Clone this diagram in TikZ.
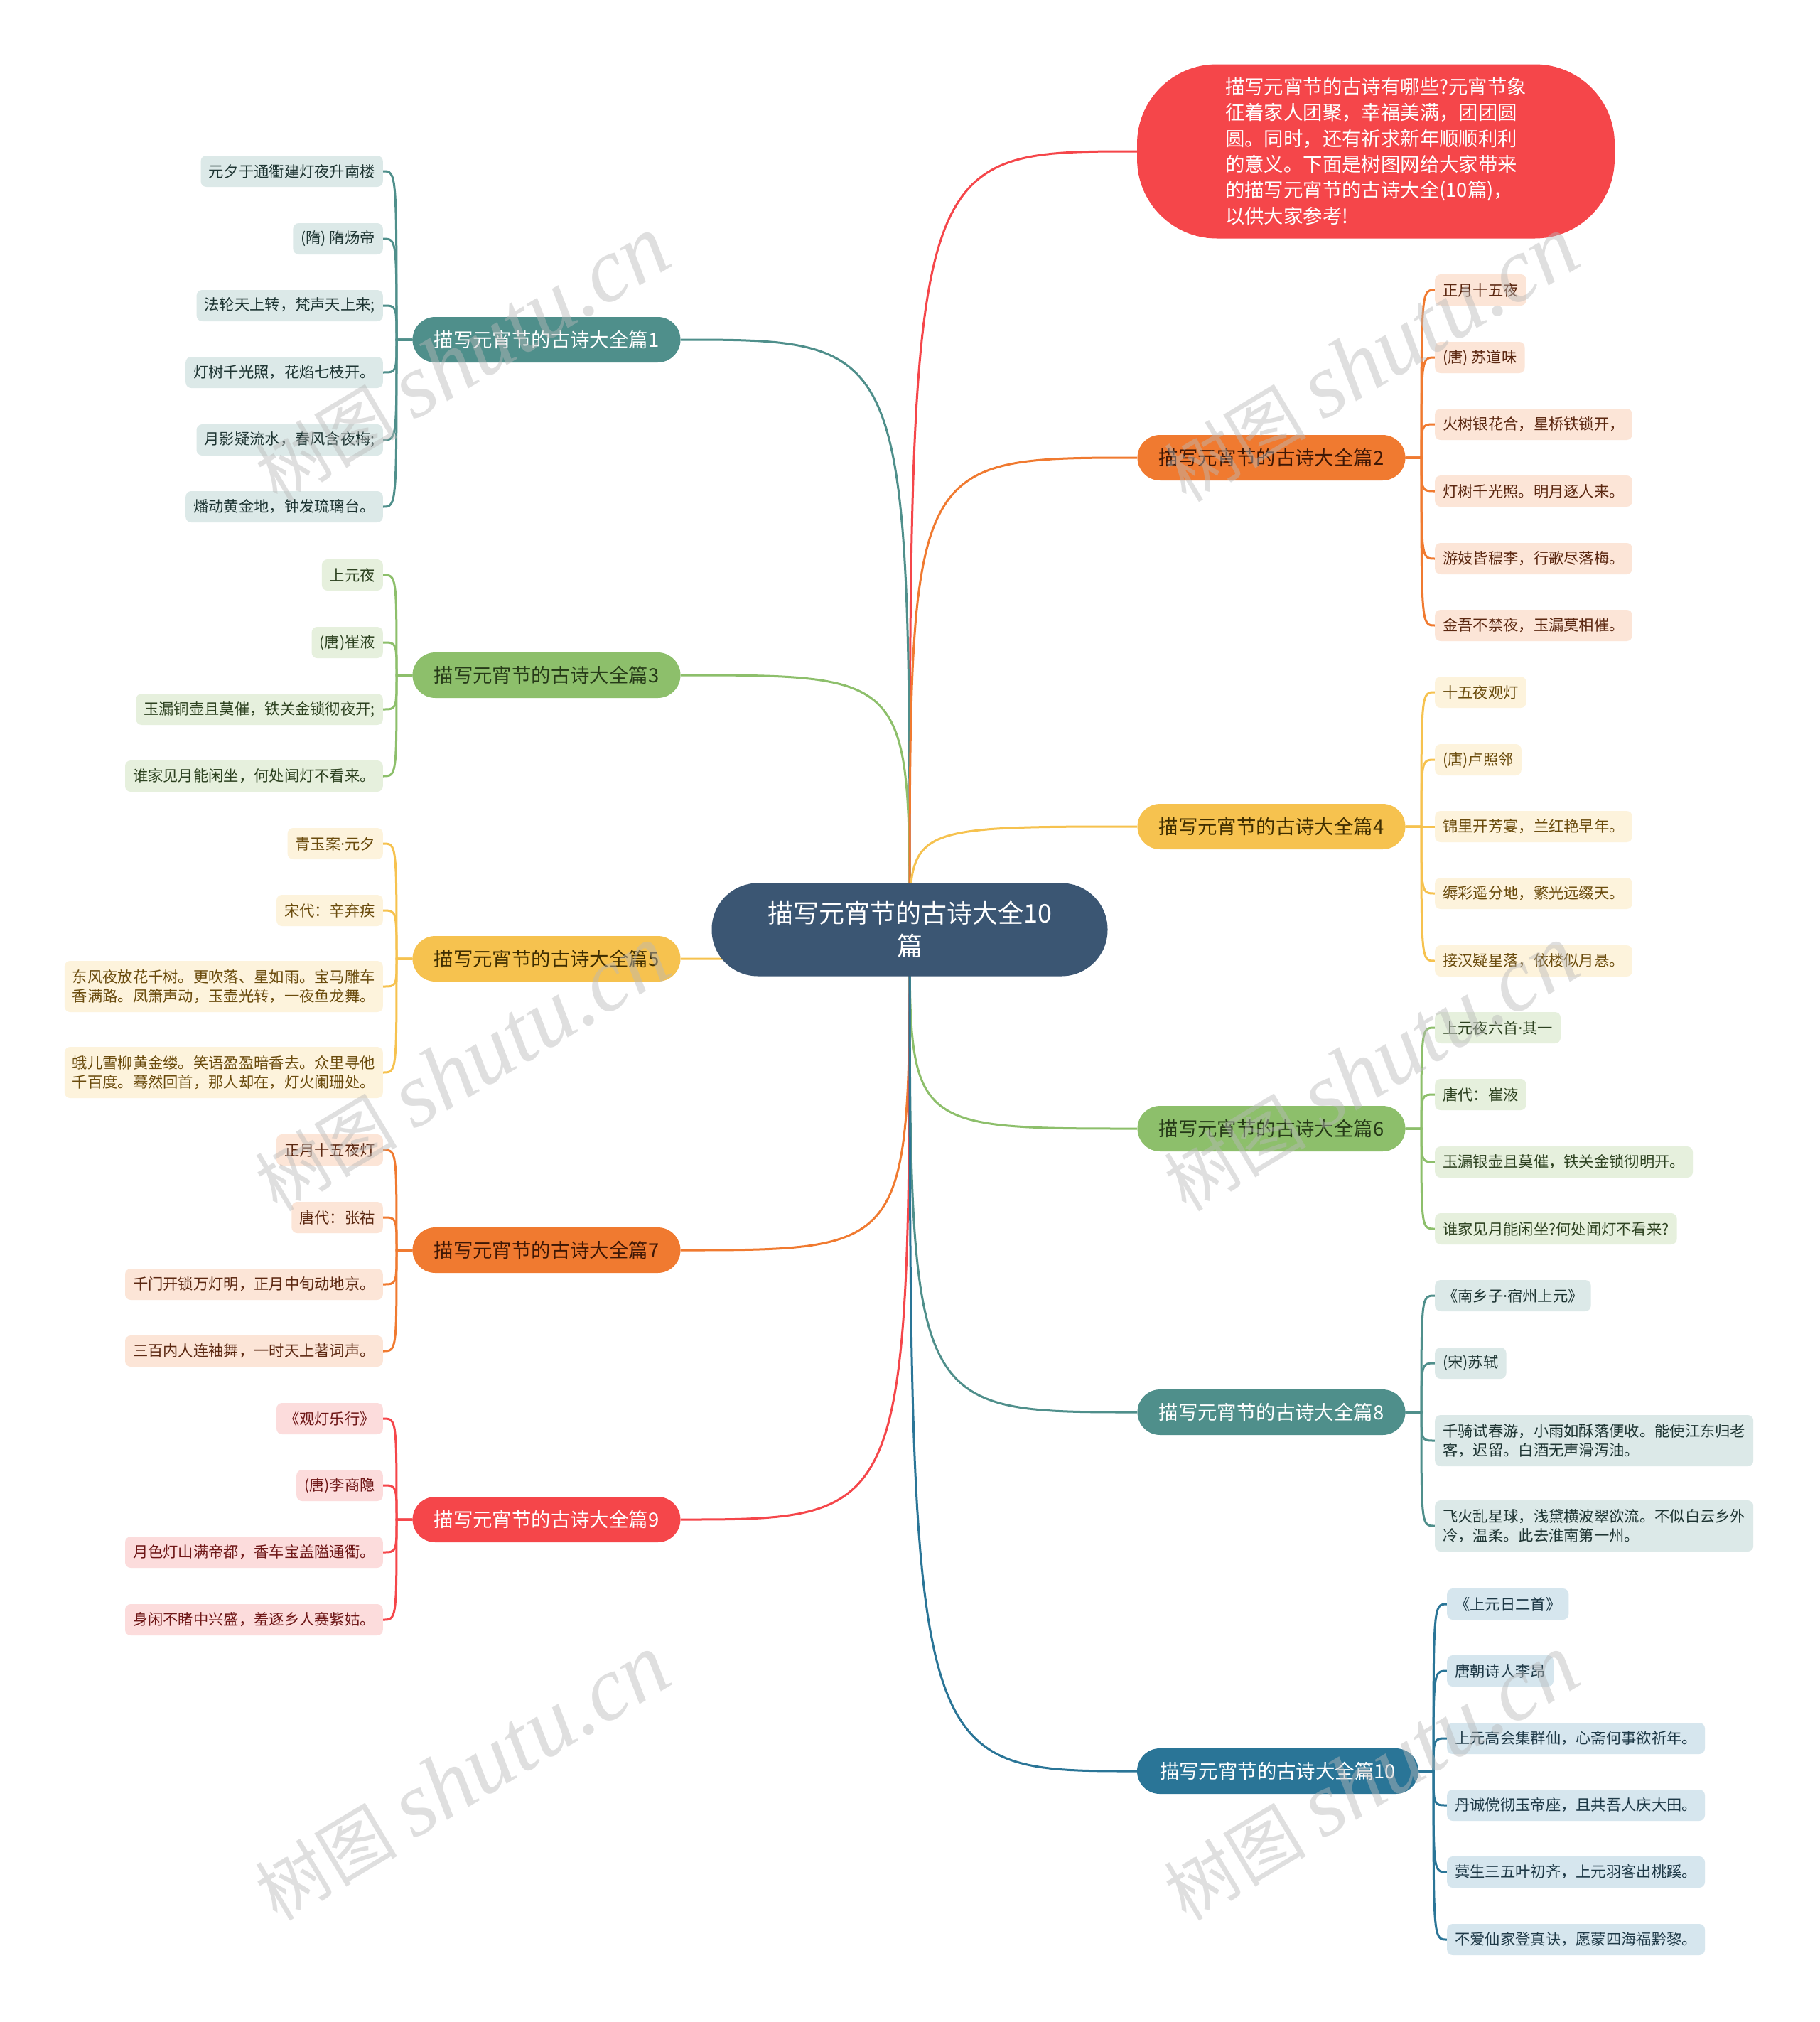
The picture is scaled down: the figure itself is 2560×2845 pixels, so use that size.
\documentclass[tikz,border=0pt]{standalone}
\usepackage{fontspec}
\setmainfont{Noto Sans CJK SC}
\newfontfamily\wmfont{Liberation Serif}
\newfontfamily\dotfont{Noto Sans}
\newcommand\mdot{{\dotfont ·}}
\pgfdeclarelayer{back}
\pgfdeclarelayer{bg}
\pgfdeclarelayer{fg}
\pgfsetlayers{back,bg,main,fg}
\definecolor{cCenter}{HTML}{3B5673}
\definecolor{cTeal}{HTML}{4F8F8B}
\definecolor{cGreen}{HTML}{8DBF6B}
\definecolor{cYellow}{HTML}{F6C24F}
\definecolor{cOrange}{HTML}{F07A30}
\definecolor{cRed}{HTML}{F5464A}
\definecolor{cBlue}{HTML}{2A7597}
\definecolor{lTeal}{HTML}{DCE9E8}
\definecolor{lGreen}{HTML}{E6F0DD}
\definecolor{lYellow}{HTML}{FDF3DC}
\definecolor{lOrange}{HTML}{FCE5D7}
\definecolor{lRed}{HTML}{FCDCDC}
\definecolor{lBlue}{HTML}{D6E6EE}
\definecolor{tTeal}{HTML}{1E3533}
\definecolor{tGreen}{HTML}{2D4220}
\definecolor{tYellow}{HTML}{6A4B0C}
\definecolor{tOrange}{HTML}{5B2710}
\definecolor{tRed}{HTML}{6E1616}
\definecolor{tBlue}{HTML}{1D3846}
\definecolor{dGreen}{HTML}{263A18}
\definecolor{dYellow}{HTML}{3F2E00}
\definecolor{dOrange}{HTML}{3E1705}
\tikzset{
  leaf/.style={rounded corners=8pt, inner xsep=11pt, inner ysep=0pt, minimum height=44pt,
    font=\fontsize{21.3pt}{27pt}\selectfont, align=left},
  leafL/.style={leaf, anchor=east},
  leafR/.style={leaf, anchor=west},
  tealleaf/.style={fill=lTeal, text=tTeal},
  greenleaf/.style={fill=lGreen, text=tGreen},
  yellowleaf/.style={fill=lYellow, text=tYellow},
  orangeleaf/.style={fill=lOrange, text=tOrange},
  redleaf/.style={fill=lRed, text=tRed},
  blueleaf/.style={fill=lBlue, text=tBlue},
  branchbox/.style={rounded corners=32pt, minimum width=377pt, minimum height=64pt, inner sep=0pt,
    font=\fontsize{27.4pt}{34pt}\selectfont},
  conn/.style={line width=3pt},
  wm/.style={text=gray!55, text opacity=0.45, rotate=31, inner sep=0pt}
}
\begin{document}
\begin{tikzpicture}[x=1pt,y=-1pt]
\begin{pgfonlayer}{back}
\path[fill=white] (0,0) rectangle (2560,2845);
\end{pgfonlayer}
\useasboundingbox (0,0) rectangle (2560,2845);

% center
\node[fill=cCenter, text=white, rounded corners=65pt, minimum width=557pt, minimum height=131pt,
  inner sep=0pt, align=center, font=\fontsize{36pt}{46pt}\selectfont] (c) at (1280,1308)
  {描写元宵节的古诗大全10\\篇};

% intro node
\node[fill=cRed, text=white, rounded corners=112pt, minimum width=672pt, minimum height=245pt,
  inner sep=0pt, align=left, font=\fontsize{27.4pt}{36.3pt}\selectfont] (intro) at (1936,213)
  {描写元宵节的古诗有哪些?元宵节象\\征着家人团聚，幸福美满，团团圆\\圆。同时，还有祈求新年顺顺利利\\的意义。下面是树图网给大家带来\\的描写元宵节的古诗大全(10篇)，\\以供大家参考!};

% branches left
\node[branchbox, fill=cTeal, text=white] (b1) at (769,478) {描写元宵节的古诗大全篇1};
\node[branchbox, fill=cGreen, text=dGreen] (b3) at (769,950) {描写元宵节的古诗大全篇3};
\node[branchbox, fill=cYellow, text=dYellow] (b5) at (769,1349) {描写元宵节的古诗大全篇5};
\node[branchbox, fill=cOrange, text=dOrange] (b7) at (769,1759) {描写元宵节的古诗大全篇7};
\node[branchbox, fill=cRed, text=white] (b9) at (769,2138) {描写元宵节的古诗大全篇9};
% branches right
\node[branchbox, fill=cOrange, text=dOrange] (b2) at (1789,644) {描写元宵节的古诗大全篇2};
\node[branchbox, fill=cYellow, text=dYellow] (b4) at (1789,1163) {描写元宵节的古诗大全篇4};
\node[branchbox, fill=cGreen, text=dGreen] (b6) at (1789,1588) {描写元宵节的古诗大全篇6};
\node[branchbox, fill=cTeal, text=white] (b8) at (1789,1987) {描写元宵节的古诗大全篇8};
\node[branchbox, fill=cBlue, text=white, minimum width=396pt] (b10) at (1798,2492) {描写元宵节的古诗大全篇10};

% leaves of b1
\node[leafL, tealleaf] (l1a) at (539,241) {元夕于通衢建灯夜升南楼};
\node[leafL, tealleaf] (l1b) at (539,336) {(隋) 隋炀帝};
\node[leafL, tealleaf] (l1c) at (539,430) {法轮天上转，梵声天上来;};
\node[leafL, tealleaf] (l1d) at (539,524) {灯树千光照，花焰七枝开。};
\node[leafL, tealleaf] (l1e) at (539,619) {月影疑流水，春风含夜梅;};
\node[leafL, tealleaf] (l1f) at (539,713) {燔动黄金地，钟发琉璃台。};
% leaves of b3
\node[leafL, greenleaf] (l3a) at (539,809) {上元夜};
\node[leafL, greenleaf] (l3b) at (539,904) {(唐)崔液};
\node[leafL, greenleaf] (l3c) at (539,998) {玉漏铜壶且莫催，铁关金锁彻夜开;};
\node[leafL, greenleaf] (l3d) at (539,1092) {谁家见月能闲坐，何处闻灯不看来。};
% leaves of b5
\node[leafL, yellowleaf] (l5a) at (539,1187) {青玉案\mdot 元夕};
\node[leafL, yellowleaf] (l5b) at (539,1281) {宋代：辛弃疾};
\node[leafL, yellowleaf, minimum height=72pt] (l5c) at (539,1388) {东风夜放花千树。更吹落、星如雨。宝马雕车\\香满路。凤箫声动，玉壶光转，一夜鱼龙舞。};
\node[leafL, yellowleaf, minimum height=72pt] (l5d) at (539,1509) {蛾儿雪柳黄金缕。笑语盈盈暗香去。众里寻他\\千百度。蓦然回首，那人却在，灯火阑珊处。};
% leaves of b7
\node[leafL, orangeleaf] (l7a) at (539,1618) {正月十五夜灯};
\node[leafL, orangeleaf] (l7b) at (539,1713) {唐代：张祜};
\node[leafL, orangeleaf] (l7c) at (539,1807) {千门开锁万灯明，正月中旬动地京。};
\node[leafL, orangeleaf] (l7d) at (539,1901) {三百内人连袖舞，一时天上著词声。};
% leaves of b9
\node[leafL, redleaf] (l9a) at (539,1996) {《观灯乐行》};
\node[leafL, redleaf] (l9b) at (539,2090) {(唐)李商隐};
\node[leafL, redleaf] (l9c) at (539,2184) {月色灯山满帝都，香车宝盖隘通衢。};
\node[leafL, redleaf] (l9d) at (539,2279) {身闲不睹中兴盛，羞逐乡人赛紫姑。};

% leaves of b2
\node[leafR, orangeleaf] (l2a) at (2019,408) {正月十五夜};
\node[leafR, orangeleaf] (l2b) at (2019,503) {(唐) 苏道味};
\node[leafR, orangeleaf] (l2c) at (2019,597) {火树银花合，星桥铁锁开，};
\node[leafR, orangeleaf] (l2d) at (2019,691) {灯树千光照。明月逐人来。};
\node[leafR, orangeleaf] (l2e) at (2019,786) {游妓皆穠李，行歌尽落梅。};
\node[leafR, orangeleaf] (l2f) at (2019,880) {金吾不禁夜，玉漏莫相催。};
% leaves of b4
\node[leafR, yellowleaf] (l4a) at (2019,974) {十五夜观灯};
\node[leafR, yellowleaf] (l4b) at (2019,1069) {(唐)卢照邻};
\node[leafR, yellowleaf] (l4c) at (2019,1163) {锦里开芳宴，兰红艳早年。};
\node[leafR, yellowleaf] (l4d) at (2019,1257) {缛彩遥分地，繁光远缀天。};
\node[leafR, yellowleaf] (l4e) at (2019,1352) {接汉疑星落，依楼似月悬。};
% leaves of b6
\node[leafR, greenleaf] (l6a) at (2019,1446) {上元夜六首\mdot 其一};
\node[leafR, greenleaf] (l6b) at (2019,1540) {唐代：崔液};
\node[leafR, greenleaf] (l6c) at (2019,1635) {玉漏银壶且莫催，铁关金锁彻明开。};
\node[leafR, greenleaf] (l6d) at (2019,1729) {谁家见月能闲坐?何处闻灯不看来?};
% leaves of b8
\node[leafR, tealleaf] (l8a) at (2019,1823) {《南乡子\mdot 宿州上元》};
\node[leafR, tealleaf] (l8b) at (2019,1918) {(宋)苏轼};
\node[leafR, tealleaf, minimum height=72pt] (l8c) at (2019,2027) {千骑试春游，小雨如酥落便收。能使江东归老\\客，迟留。白酒无声滑泻油。};
\node[leafR, tealleaf, minimum height=72pt] (l8d) at (2019,2147) {飞火乱星球，浅黛横波翠欲流。不似白云乡外\\冷，温柔。此去淮南第一州。};
% leaves of b10
\node[leafR, blueleaf] (l10a) at (2036,2257) {《上元日二首》};
\node[leafR, blueleaf] (l10b) at (2036,2351) {唐朝诗人李昂};
\node[leafR, blueleaf] (l10c) at (2036,2446) {上元高会集群仙，心斋何事欲祈年。};
\node[leafR, blueleaf] (l10d) at (2036,2540) {丹诚傥彻玉帝座，且共吾人庆大田。};
\node[leafR, blueleaf] (l10e) at (2036,2634) {蓂生三五叶初齐，上元羽客出桃蹊。};
\node[leafR, blueleaf] (l10f) at (2036,2729) {不爱仙家登真诀，愿蒙四海福黔黎。};

% spine points
\coordinate (s1) at (558,478);
\coordinate (s3) at (558,950);
\coordinate (s5) at (558,1349);
\coordinate (s7) at (558,1759);
\coordinate (s9) at (558,2138);
\coordinate (s2) at (2000,644);
\coordinate (s4) at (2000,1163);
\coordinate (s6) at (2000,1588);
\coordinate (s8) at (2000,1987);
\coordinate (s10) at (2017,2492);

\begin{pgfonlayer}{bg}
% center connectors
\draw[conn, cRed] (c.center) .. controls (c.center |- intro.west) and (c.center |- intro.west) .. (intro.west);
\draw[conn, cTeal] (c.center) .. controls (c.center |- b1.east) and (c.center |- b1.east) .. (b1.east);
\draw[conn, cGreen] (c.center) .. controls (c.center |- b3.east) and (c.center |- b3.east) .. (b3.east);
\draw[conn, cYellow] (c.center) .. controls (c.center |- b5.east) and (c.center |- b5.east) .. (b5.east);
\draw[conn, cOrange] (c.center) .. controls (c.center |- b7.east) and (c.center |- b7.east) .. (b7.east);
\draw[conn, cRed] (c.center) .. controls (c.center |- b9.east) and (c.center |- b9.east) .. (b9.east);
\draw[conn, cOrange] (c.center) .. controls (c.center |- b2.west) and (c.center |- b2.west) .. (b2.west);
\draw[conn, cYellow] (c.center) .. controls (c.center |- b4.west) and (c.center |- b4.west) .. (b4.west);
\draw[conn, cGreen] (c.center) .. controls (c.center |- b6.west) and (c.center |- b6.west) .. (b6.west);
\draw[conn, cTeal] (c.center) .. controls (c.center |- b8.west) and (c.center |- b8.west) .. (b8.west);
\draw[conn, cBlue] (c.center) .. controls (c.center |- b10.west) and (c.center |- b10.west) .. (b10.west);
% leaf connectors, left
\foreach \l in {l1a,l1b,l1c,l1d,l1e,l1f}
  \draw[conn, cTeal] (b1.west) -- (s1) .. controls (s1 |- \l.east) and (s1 |- \l.east) .. (\l.east);
\foreach \l in {l3a,l3b,l3c,l3d}
  \draw[conn, cGreen] (b3.west) -- (s3) .. controls (s3 |- \l.east) and (s3 |- \l.east) .. (\l.east);
\foreach \l in {l5a,l5b,l5c,l5d}
  \draw[conn, cYellow] (b5.west) -- (s5) .. controls (s5 |- \l.east) and (s5 |- \l.east) .. (\l.east);
\foreach \l in {l7a,l7b,l7c,l7d}
  \draw[conn, cOrange] (b7.west) -- (s7) .. controls (s7 |- \l.east) and (s7 |- \l.east) .. (\l.east);
\foreach \l in {l9a,l9b,l9c,l9d}
  \draw[conn, cRed] (b9.west) -- (s9) .. controls (s9 |- \l.east) and (s9 |- \l.east) .. (\l.east);
% leaf connectors, right
\foreach \l in {l2a,l2b,l2c,l2d,l2e,l2f}
  \draw[conn, cOrange] (b2.east) -- (s2) .. controls (s2 |- \l.west) and (s2 |- \l.west) .. (\l.west);
\foreach \l in {l4a,l4b,l4c,l4d,l4e}
  \draw[conn, cYellow] (b4.east) -- (s4) .. controls (s4 |- \l.west) and (s4 |- \l.west) .. (\l.west);
\foreach \l in {l6a,l6b,l6c,l6d}
  \draw[conn, cGreen] (b6.east) -- (s6) .. controls (s6 |- \l.west) and (s6 |- \l.west) .. (\l.west);
\foreach \l in {l8a,l8b,l8c,l8d}
  \draw[conn, cTeal] (b8.east) -- (s8) .. controls (s8 |- \l.west) and (s8 |- \l.west) .. (\l.west);
\foreach \l in {l10a,l10b,l10c,l10d,l10e,l10f}
  \draw[conn, cBlue] (b10.east) -- (s10) .. controls (s10 |- \l.west) and (s10 |- \l.west) .. (\l.west);
\end{pgfonlayer}

% watermarks
\begin{pgfonlayer}{fg}
\foreach \wx/\wy [count=\i] in {650/505, 650/1503, 650/2501, 1929/505, 1929/1503, 1929/2501}
  \node[wm] (wm\i) at (\wx,\wy) {\fontsize{100pt}{100pt}\selectfont 树图\hspace{24pt}{\wmfont\itshape\fontsize{128pt}{128pt}\selectfont shutu.cn}};
\end{pgfonlayer}
\end{tikzpicture}
\end{document}
